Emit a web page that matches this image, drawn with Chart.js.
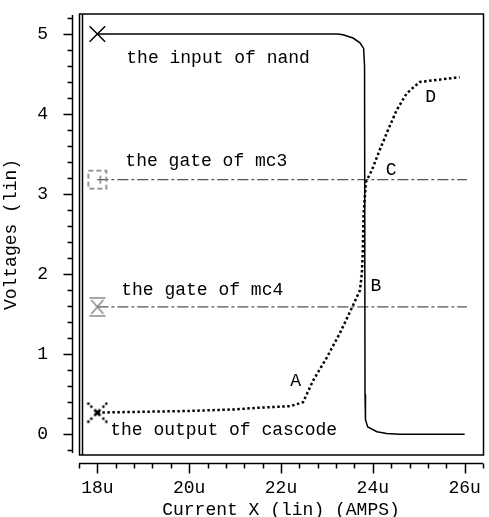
<!DOCTYPE html>
<html lang="en">
<head>
<meta charset="UTF-8">
<title>Voltages vs Current X</title>
<script src="https://cdn.jsdelivr.net/npm/chart.js"></script>
<style>
  body { margin: 0; background: #fff; }
  canvas { display: block; }
</style>
</head>
<body>
<canvas id="grafico" width="489" height="517"></canvas>
<script>
// eixos
var xTicks = [18, 20, 22, 24, 26];
var yTicks = [0, 1, 2, 3, 4, 5];

// the input of nand
var nandX = [18, 23.24, 23.35, 23.57, 23.72, 23.80, 23.82, 23.83, 23.84, 23.89, 24.09, 24.30, 24.59, 26.0];
var nandY = [5, 5, 4.99, 4.95, 4.89, 4.82, 4.6, 0.5, 0.18, 0.09, 0.03, 0.01, 0, 0];

// the gate of mc3 / mc4
var mc3X = [18, 26.05];
var mc3Y = [3.18, 3.18];
var mc4X = [18, 26.05];
var mc4Y = [1.59, 1.59];

// the output of cascode
var cascX = [18, 19, 20, 21, 21.5, 22.2, 22.48, 22.7, 23.0, 23.28, 23.57, 23.72, 23.76, 23.78, 23.80, 23.85, 23.98, 24.15, 24.33, 24.52, 24.74, 25.02, 25.3, 25.89];
var cascY = [0.27, 0.28, 0.29, 0.31, 0.33, 0.35, 0.40, 0.67, 0.96, 1.26, 1.61, 1.8, 2.0, 2.26, 2.76, 3.15, 3.3, 3.55, 3.8, 4.05, 4.26, 4.4, 4.42, 4.46];

// textos no grafico
var labelText = ["the input of nand", "the gate of mc3", "the gate of mc4", "the output of cascode", "A", "B", "C", "D"];
var labelX = [18.63, 18.61, 18.52, 18.28, 22.2, 23.95, 24.28, 25.14];
var labelY = [4.70, 3.41, 1.80, 0.05, 0.66, 1.85, 3.30, 4.21];

var FONT = '"Liberation Mono", "DejaVu Sans Mono", monospace';

function pts(xs, ys) {
    return xs.map(function (x, i) { return { x: x, y: ys[i] }; });
}

// marcadores desenhados a mao
function marker(w, h, draw) {
    var c = document.createElement("canvas");
    c.width = w; c.height = h;
    var g = c.getContext("2d");
    draw(g);
    return c;
}
var squareMark = marker(22, 22, function (g) {
    g.strokeStyle = "#777"; g.lineWidth = 1.5;
    g.setLineDash([5, 3]);
    g.strokeRect(2, 2, 18, 18);
    g.setLineDash([]);
    g.beginPath(); g.moveTo(14, 7); g.lineTo(14, 15); g.stroke();
});
var hourMark = marker(20, 22, function (g) {
    g.strokeStyle = "#888"; g.lineWidth = 1.5;
    g.beginPath();
    g.moveTo(2, 2); g.lineTo(18, 2);
    g.moveTo(2, 20); g.lineTo(18, 20);
    g.moveTo(4, 4); g.lineTo(16, 18);
    g.moveTo(16, 4); g.lineTo(4, 18);
    g.stroke();
});
var starMark = marker(22, 22, function (g) {
    g.fillStyle = "#000";
    [[2, 2], [5, 5], [17, 5], [20, 2], [5, 17], [2, 20], [17, 17], [20, 20]].forEach(function (p) {
        g.fillRect(p[0] - 1.2, p[1] - 1.2, 2.4, 2.4);
    });
    g.strokeStyle = "#000"; g.lineWidth = 2.5;
    g.beginPath();
    g.moveTo(8, 8); g.lineTo(14, 14);
    g.moveTo(14, 8); g.lineTo(8, 14);
    g.stroke();
});

function firstOnly(r) {
    return function (ctx) { return ctx.dataIndex === 0 ? r : 0; };
}

function noPad(s) {
    s.paddingTop = 0; s.paddingBottom = 0; s.paddingLeft = 0; s.paddingRight = 0;
}

// moldura, reguas e textos
var moldura = {
    id: "moldura",
    afterDraw: function (chart) {
        var ctx = chart.ctx, a = chart.chartArea;
        var xs = chart.scales.x, ys = chart.scales.y;
        ctx.save();
        ctx.strokeStyle = "#000";
        ctx.lineWidth = 1.5;
        ctx.beginPath();
        ctx.moveTo(79.5, a.top); ctx.lineTo(a.right + 0.5, a.top);
        ctx.lineTo(a.right + 0.5, a.bottom); ctx.lineTo(79.5, a.bottom);
        ctx.closePath();
        ctx.moveTo(82.5, a.top); ctx.lineTo(82.5, a.bottom);
        ctx.stroke();

        // regua y
        var rx = 72.5;
        ctx.beginPath();
        ctx.moveTo(rx, a.top + 1); ctx.lineTo(rx, a.bottom - 2);
        for (var v = -0.2; v <= ys.max + 1e-6; v += 0.2) {
            var py = Math.round(ys.getPixelForValue(v)) + 0.5;
            var major = Math.abs(v - Math.round(v)) < 1e-6;
            ctx.moveTo(rx, py); ctx.lineTo(rx - (major ? 9 : 5), py);
        }
        ctx.stroke();

        // regua x
        var ry = 463.5;
        ctx.beginPath();
        ctx.moveTo(a.left, ry); ctx.lineTo(a.right, ry);
        for (var u = 17.6; u <= xs.max + 1e-6; u += 0.4) {
            var px = Math.round(xs.getPixelForValue(u)) + 0.5;
            var maj = Math.abs(u / 2 - Math.round(u / 2)) < 1e-6;
            ctx.moveTo(px, ry); ctx.lineTo(px, ry + (maj ? 10 : 5));
        }
        ctx.stroke();

        ctx.fillStyle = "#000";
        ctx.font = "18px " + FONT;
        ctx.textBaseline = "middle";

        // rotulos do eixo x
        ctx.textAlign = "center";
        xTicks.forEach(function (t) {
            ctx.fillText(t + "u", xs.getPixelForValue(t), 488);
        });

        // textos
        ctx.textAlign = "left";
        labelText.forEach(function (t, i) {
            ctx.fillText(t, xs.getPixelForValue(labelX[i]), ys.getPixelForValue(labelY[i]));
        });
        ctx.restore();
    }
};

var grafico = new Chart(document.getElementById("grafico").getContext("2d"), {
    type: "scatter",
    data: {
        datasets: [
            {
                label: "the input of nand",
                data: pts(nandX, nandY),
                showLine: true,
                borderColor: "#000",
                borderWidth: 1.5,
                pointStyle: "crossRot",
                pointRadius: firstOnly(11),
                pointBorderColor: "#000",
                pointBorderWidth: 1.5
            },
            {
                label: "the gate of mc3",
                data: pts(mc3X, mc3Y),
                showLine: true,
                borderColor: "#555",
                borderWidth: 1.3,
                borderDash: [11, 3, 3, 3],
                pointStyle: squareMark,
                pointRadius: firstOnly(10)
            },
            {
                label: "the gate of mc4",
                data: pts(mc4X, mc4Y),
                showLine: true,
                borderColor: "#555",
                borderWidth: 1.3,
                borderDash: [11, 3, 3, 3],
                pointStyle: hourMark,
                pointRadius: firstOnly(10)
            },
            {
                label: "the output of cascode",
                data: pts(cascX, cascY),
                showLine: true,
                borderColor: "#000",
                borderWidth: 2.5,
                borderDash: [2.5, 2.5],
                pointStyle: starMark,
                pointRadius: firstOnly(10)
            }
        ]
    },
    options: {
        responsive: false,
        animation: false,
        devicePixelRatio: 1,
        layout: { autoPadding: false, padding: { left: 0, top: 14, right: 6, bottom: 0 } },
        plugins: { legend: { display: false }, tooltip: { enabled: false } },
        scales: {
            x: {
                type: "linear",
                min: 17.6,
                max: 26.4,
                afterBuildTicks: function (s) { s.ticks = xTicks.map(function (v) { return { value: v }; }); },
                afterFit: function (s) { s.height = 62; noPad(s); },
                grid: { display: false },
                border: { display: false },
                ticks: { display: false },
                title: {
                    display: true,
                    text: "Current X (lin) (AMPS)",
                    color: "#000",
                    font: { family: FONT, size: 18, lineHeight: 0.8 },
                    padding: 0
                }
            },
            y: {
                type: "linear",
                min: -0.26,
                max: 5.25,
                afterBuildTicks: function (s) { s.ticks = yTicks.map(function (v) { return { value: v }; }); },
                afterFit: function (s) { s.width = 79; noPad(s); },
                grid: { display: false },
                border: { display: false },
                ticks: {
                    color: "#000",
                    font: { family: FONT, size: 18 },
                    padding: 23
                },
                title: {
                    display: true,
                    text: "Voltages (lin)",
                    color: "#000",
                    font: { family: FONT, size: 18, lineHeight: 1.3 },
                    padding: 0
                }
            }
        }
    },
    plugins: [moldura]
});
</script>
</body>
</html>
